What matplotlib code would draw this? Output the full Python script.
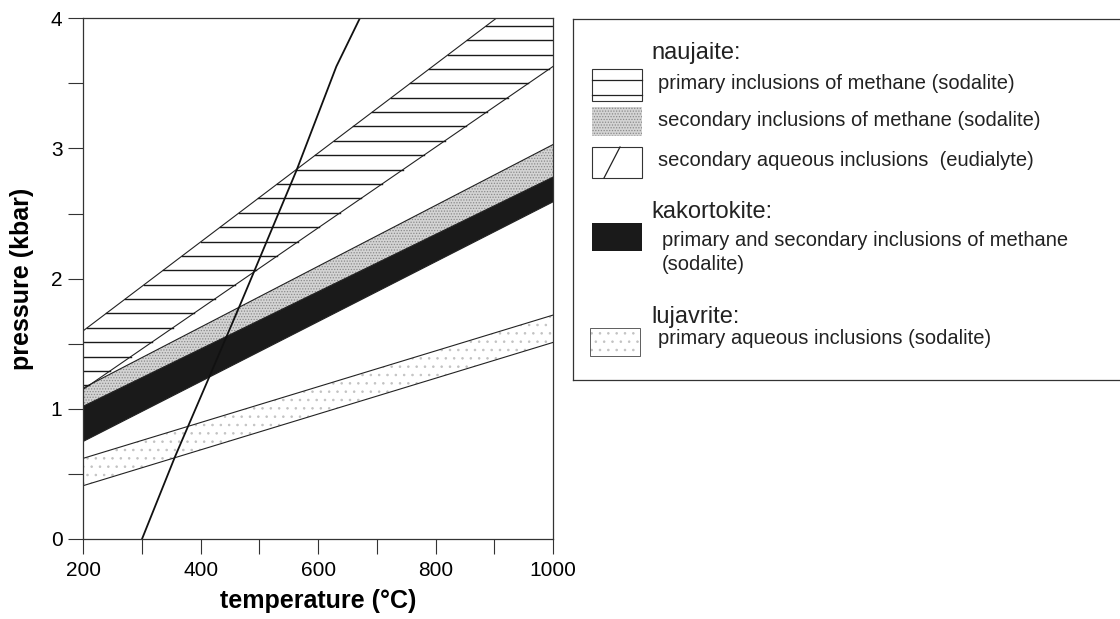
import numpy as np
import matplotlib
matplotlib.use("Agg")
from matplotlib import pyplot as plt
from matplotlib.patches import Rectangle

plt.rcParams['font.family'] = ['Liberation Sans', 'DejaVu Sans']
plt.rcParams['hatch.linewidth'] = 0.6

# band edges, read at T = 200 and 1000 degC (kbar)
T_ends = [200, 1000]
prim_meth_hi = [1.60, 4.33]
prim_meth_lo = [1.15, 3.63]
sec_meth_hi = [1.16, 3.03]
kak_hi = [1.02, 2.78]
kak_lo = [0.75, 2.59]
luj_hi = [0.62, 1.72]
luj_lo = [0.41, 1.51]

# eudialyte isochore (secondary aqueous inclusions)
eud_T = [300, 356, 416, 470, 563, 631, 671]
eud_p = [0.0, 0.63, 1.26, 1.83, 2.83, 3.63, 4.0]

xticks = [200, 400, 600, 800, 1000]
yticks = [0, 1, 2, 3, 4]

W, H = 1120, 619
fig = plt.figure(figsize=(W / 100, H / 100), dpi=100)
ax = fig.add_axes([83.3 / W, (H - 539) / H, (553 - 83.3) / W, (539 - 18.3) / H])

T = np.linspace(200, 1000, 200)
def band(ends):
    return np.interp(T, T_ends, ends)

# lujavrite band (light speckle)
ax.fill_between(T, band(luj_lo), band(luj_hi), facecolor='white',
                edgecolor='#c2c2c2', hatch='..', linewidth=0)
# naujaite secondary methane (stippled)
ax.fill_between(T, band(kak_hi), band(sec_meth_hi), facecolor='#d4d4d4',
                edgecolor='#8a8a8a', hatch='......', linewidth=0)
# kakortokite (black)
ax.fill_between(T, band(kak_lo), band(kak_hi), facecolor='#1a1a1a', linewidth=0)

for e in [luj_lo, luj_hi, sec_meth_hi, kak_hi, kak_lo]:
    ax.plot(T, band(e), color='#222222', lw=0.8)

# naujaite primary methane: horizontal hatch lines clipped to the band
ax.plot(T, band(prim_meth_hi), color='#222222', lw=0.8)
ax.plot(T, band(prim_meth_lo), color='#222222', lw=0.8)
step = 0.1105
for lev in np.arange(1.18, 4.0, step):
    x0 = np.interp(lev, prim_meth_hi, T_ends)
    x1 = np.interp(lev, prim_meth_lo, T_ends)
    x0 = max(x0, 200)
    x1 = min(x1, 1000)
    if x1 > x0:
        ax.plot([x0, x1], [lev, lev], color='#1a1a1a', lw=1.0)

# eudialyte isochore
ax.plot(eud_T, eud_p, color='#111111', lw=1.3)

ax.set_xlim(200, 1000)
ax.set_ylim(0, 4)
ax.set_xticks(xticks)
ax.set_xticks(np.arange(200, 1001, 100), minor=True)
ax.set_yticks(yticks)
ax.set_yticks(np.arange(0, 4.01, 0.5), minor=True)
ax.tick_params(axis='both', which='both', direction='out', length=11,
               width=0.8, color='#333333', labelsize=15)
ax.tick_params(axis='x', pad=5)
ax.tick_params(axis='y', pad=4)
for s in ax.spines.values():
    s.set_linewidth(0.9)
    s.set_color('#333333')
ax.spines['bottom'].set_linestyle((0, (2, 1)))

ax.set_xlabel('temperature (°C)', fontsize=18, fontweight='bold', labelpad=6)
ax.set_ylabel('pressure (kbar)', fontsize=18, fontweight='bold', labelpad=12)

# legend box drawn in pixel coordinates
lg = fig.add_axes([573 / W, (H - 380) / H, (1125 - 573) / W, (380 - 19) / H])
lg.set_xlim(573, 1125)
lg.set_ylim(380, 19)
lg.set_xticks([])
lg.set_yticks([])
for s in lg.spines.values():
    s.set_linewidth(0.9)
    s.set_color('#333333')

px0, pw = 592, 50
# primary methane patch
lg.add_patch(Rectangle((px0, 69), pw, 32, facecolor='white', edgecolor='#333', lw=0.8))
for yy in [80, 95]:
    lg.plot([px0, px0 + pw], [yy, yy], color='#222', lw=0.9)
# secondary methane patch
lg.add_patch(Rectangle((px0, 107), pw, 29, facecolor='#d4d4d4', edgecolor='#8a8a8a',
                       hatch='......', lw=0))
# aqueous eudialyte patch
lg.add_patch(Rectangle((px0, 147), pw, 31, facecolor='white', edgecolor='#333', lw=0.8))
lg.plot([px0 + 12, px0 + 28], [178, 147], color='#222', lw=0.9)
# kakortokite patch
lg.add_patch(Rectangle((px0, 223), pw, 28, facecolor='#1a1a1a', lw=0))
# lujavrite patch
lg.add_patch(Rectangle((px0 - 2, 328), pw, 28, facecolor='white', edgecolor='#c2c2c2',
                       hatch='..', lw=0))
lg.add_patch(Rectangle((px0 - 2, 328), pw, 28, facecolor='none', edgecolor='#444', lw=0.6))

head = dict(fontsize=17, va='center', ha='left', color='#222')
item = dict(fontsize=14.5, va='center', ha='left', color='#222')
lg.text(651, 53, 'naujaite:', **head)
lg.text(658, 83, 'primary inclusions of methane (sodalite)', **item)
lg.text(658, 120, 'secondary inclusions of methane (sodalite)', **item)
lg.text(658, 160, 'secondary aqueous inclusions  (eudialyte)', **item)
lg.text(651, 212, 'kakortokite:', **head)
lg.text(662, 240, 'primary and secondary inclusions of methane', **item)
lg.text(662, 264, '(sodalite)', **item)
lg.text(651, 317, 'lujavrite:', **head)
lg.text(658, 339, 'primary aqueous inclusions (sodalite)', **item)

fig.savefig('out.png', dpi=100)
